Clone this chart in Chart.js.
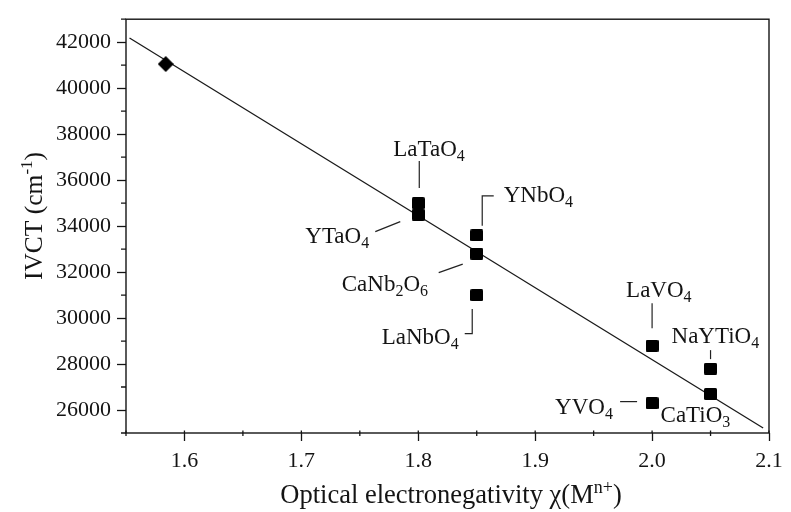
<!DOCTYPE html>
<html>
<head>
<meta charset="utf-8">
<script src="https://cdn.jsdelivr.net/npm/chart.js@4/dist/chart.umd.min.js"></script>
<style>
html,body{margin:0;padding:0;background:#fff;}
#c{display:block;}
</style>
</head>
<body>
<canvas id="c" width="791" height="512"></canvas>
<script>
// ---- data ----
const compounds = ['LaTaO4','YTaO4','YNbO4','CaNb2O6','LaNbO4','LaVO4','NaYTiO4','CaTiO3','YVO4'];
const chiX      = [1.80, 1.80, 1.85, 1.85, 1.85, 2.00, 2.05, 2.05, 2.00];
const ivctY     = [35000, 34500, 33600, 32800, 31000, 28800, 27800, 26700, 26300];
const refX      = [1.584];
const refY      = [41050];
const fitX      = [1.553, 2.095];
const fitY      = [42180, 25220];
const xTicks    = [1.6, 1.7, 1.8, 1.9, 2.0, 2.1];
const yTicks    = [26000, 28000, 30000, 32000, 34000, 36000, 38000, 40000, 42000];

// ---- styling / layout ----
const FONT = '"Liberation Serif","Times New Roman",serif';
const INK = '#141414';
const labelLayout = { // text left/baseline offset and leader polyline, px relative to point
  'LaTaO4':  {dx:-25, dy:-47, lead:[[1,-42],[1,-15]]},
  'YTaO4':   {dx:-113, dy:28, lead:[[-43,17],[-18,7]]},
  'YNbO4':   {dx:27, dy:-33, lead:[[17,-39.5],[5.5,-39.5],[5.5,-9.5]]},
  'CaNb2O6': {dx:-135, dy:37, lead:[[-38,19],[-14,10.5]]},
  'LaNbO4':  {dx:-95, dy:49, lead:[[-4.5,14],[-4.5,38.5],[-12,38.5]]},
  'LaVO4':   {dx:-26, dy:-49, lead:[[0,-42.5],[0,-17.5]]},
  'NaYTiO4': {dx:-39, dy:-26, lead:[[0,-18.5],[0,-9.5]]},
  'CaTiO3':  {dx:-50, dy:28, lead:[]},
  'YVO4':    {dx:-97, dy:11, lead:[[-32,-1.5],[-15,-1.5]]}
};

function makeSquare(){
  const c = document.createElement('canvas'); c.width = 13; c.height = 12;
  const g = c.getContext('2d'); g.fillStyle = '#000';
  g.beginPath(); g.roundRect(0,0,13,12,1.5); g.fill(); return c;
}
function makeDiamond(){
  const c = document.createElement('canvas'); c.width = 16; c.height = 16;
  const g = c.getContext('2d'); g.fillStyle = '#000';
  g.beginPath(); g.moveTo(8,0); g.lineTo(16,8); g.lineTo(8,16); g.lineTo(0,8); g.closePath(); g.fill(); return c;
}

function richSegments(str){ // digits become subscripts
  const segs = []; let cur = ''; let curSub = null;
  for (const ch of str){
    const sub = /[0-9]/.test(ch);
    if (curSub === null || sub === curSub){ cur += ch; curSub = sub; }
    else { segs.push({t:cur, mode: curSub ? 'sub' : ''}); cur = ch; curSub = sub; }
  }
  if (cur) segs.push({t:cur, mode: curSub ? 'sub' : ''});
  return segs;
}
function richWidth(ctx, segs, size){
  let w = 0;
  for (const s of segs){
    ctx.font = (s.mode ? Math.round(size*0.68) : size) + 'px ' + FONT;
    w += ctx.measureText(s.t).width;
  }
  return w;
}
function drawRich(ctx, segs, x, y, size){
  ctx.textAlign = 'left'; ctx.textBaseline = 'alphabetic';
  for (const s of segs){
    let yy = y;
    if (s.mode === 'sub'){ ctx.font = Math.round(size*0.68) + 'px ' + FONT; yy = y + size*0.22; }
    else if (s.mode === 'sup'){ ctx.font = Math.round(size*0.68) + 'px ' + FONT; yy = y - size*0.38; }
    else ctx.font = size + 'px ' + FONT;
    ctx.fillText(s.t, x, yy);
    x += ctx.measureText(s.t).width;
  }
}

const decor = {
  id: 'decor',
  afterDatasetsDraw(chart){
    const ctx = chart.ctx, a = chart.chartArea, xs = chart.scales.x, ys = chart.scales.y;
    ctx.save();
    // frame
    ctx.strokeStyle = INK; ctx.lineWidth = 1.4;
    ctx.strokeRect(a.left, a.top, a.right - a.left, a.bottom - a.top);
    // minor ticks + inner part of major x ticks
    ctx.lineWidth = 1.3; ctx.beginPath();
    for (let v = 1.55; v <= 2.1001; v += 0.05){
      const px = xs.getPixelForValue(v);
      ctx.moveTo(px, a.bottom - 2.5); ctx.lineTo(px, a.bottom + (Math.round(v*100) % 10 === 0 ? 0 : 3));
    }
    for (let v = 25000; v <= 43000; v += 1000){
      if (v % 2000 === 0) continue;
      const py = ys.getPixelForValue(v);
      ctx.moveTo(a.left - 5, py); ctx.lineTo(a.left, py);
    }
    ctx.stroke();
    // labels and leaders
    ctx.fillStyle = INK; ctx.strokeStyle = '#222'; ctx.lineWidth = 1.2;
    compounds.forEach((name, i) => {
      const L = labelLayout[name];
      const px = xs.getPixelForValue(chiX[i]), py = ys.getPixelForValue(ivctY[i]);
      if (L.lead.length){
        ctx.beginPath();
        L.lead.forEach((p, k) => { if (k === 0) ctx.moveTo(px + p[0], py + p[1]); else ctx.lineTo(px + p[0], py + p[1]); });
        ctx.stroke();
      }
      drawRich(ctx, richSegments(name), px + L.dx, py + L.dy, 23);
    });
    // axis titles
    const xt = [{t:'Optical electronegativity \u03C7(M', mode:''},{t:'n+', mode:'sup'},{t:')', mode:''}];
    const xw = richWidth(ctx, xt, 26.5);
    drawRich(ctx, xt, 451 - xw/2, 503, 26.5);
    const yt = [{t:'IVCT (cm', mode:''},{t:'-1', mode:'sup'},{t:')', mode:''}];
    const yw = richWidth(ctx, yt, 25.5);
    ctx.translate(42, 216); ctx.rotate(-Math.PI/2);
    drawRich(ctx, yt, -yw/2, 0, 25.5);
    ctx.restore();
  }
};

new Chart(document.getElementById('c'), {
  type: 'scatter',
  data: {
    datasets: [
      { label:'fit', order:3, data: fitX.map((x,i)=>({x, y: fitY[i]})), showLine:true, pointRadius:0,
        borderColor:'#1a1a1a', borderWidth:1.3, fill:false },
      { label:'ref', order:1, data: refX.map((x,i)=>({x, y: refY[i]})), pointStyle: makeDiamond(), pointRadius:8 },
      { label:'compounds', order:1, data: chiX.map((x,i)=>({x, y: ivctY[i]})), pointStyle: makeSquare(), pointRadius:7 }
    ]
  },
  options: {
    responsive:false, animation:false, devicePixelRatio:1,
    layout:{ padding:{ top:10, right:22, left:0, bottom:0 } },
    plugins:{ legend:{display:false}, tooltip:{enabled:false} },
    scales:{
      x:{ type:'linear', min:1.55, max:2.1,
        afterBuildTicks: s => { s.ticks = [1.55,1.6,1.65,1.7,1.75,1.8,1.85,1.9,1.95,2.0,2.05,2.1].map(v=>({value:v})); },
        ticks:{ autoSkip:false, maxRotation:0, padding:7, color:INK, font:{family:FONT, size:22},
          callback: v => xTicks.some(t => Math.abs(t - v) < 1e-6) ? Number(v).toFixed(1) : '' },
        grid:{ display:true, drawOnChartArea:false, tickLength:8, tickWidth:1.3,
          tickColor: c => (c.tick && xTicks.some(t => Math.abs(t - c.tick.value) < 1e-6)) ? INK : 'rgba(0,0,0,0)' },
        border:{ display:false },
        afterFit: s => { s.height = 79; }
      },
      y:{ type:'linear', min:25000, max:43000,
        ticks:{ stepSize:1000, autoSkip:false, padding:6, color:INK, font:{family:FONT, size:22},
          callback: v => yTicks.includes(v) ? String(v) : '' },
        grid:{ display:true, drawOnChartArea:false, tickLength:9, tickWidth:1.3,
          tickColor: c => (c.tick && yTicks.includes(c.tick.value)) ? INK : 'rgba(0,0,0,0)' },
        border:{ display:false },
        afterFit: s => { s.width = 126; }
      }
    }
  },
  plugins:[decor]
});
</script>
</body>
</html>
